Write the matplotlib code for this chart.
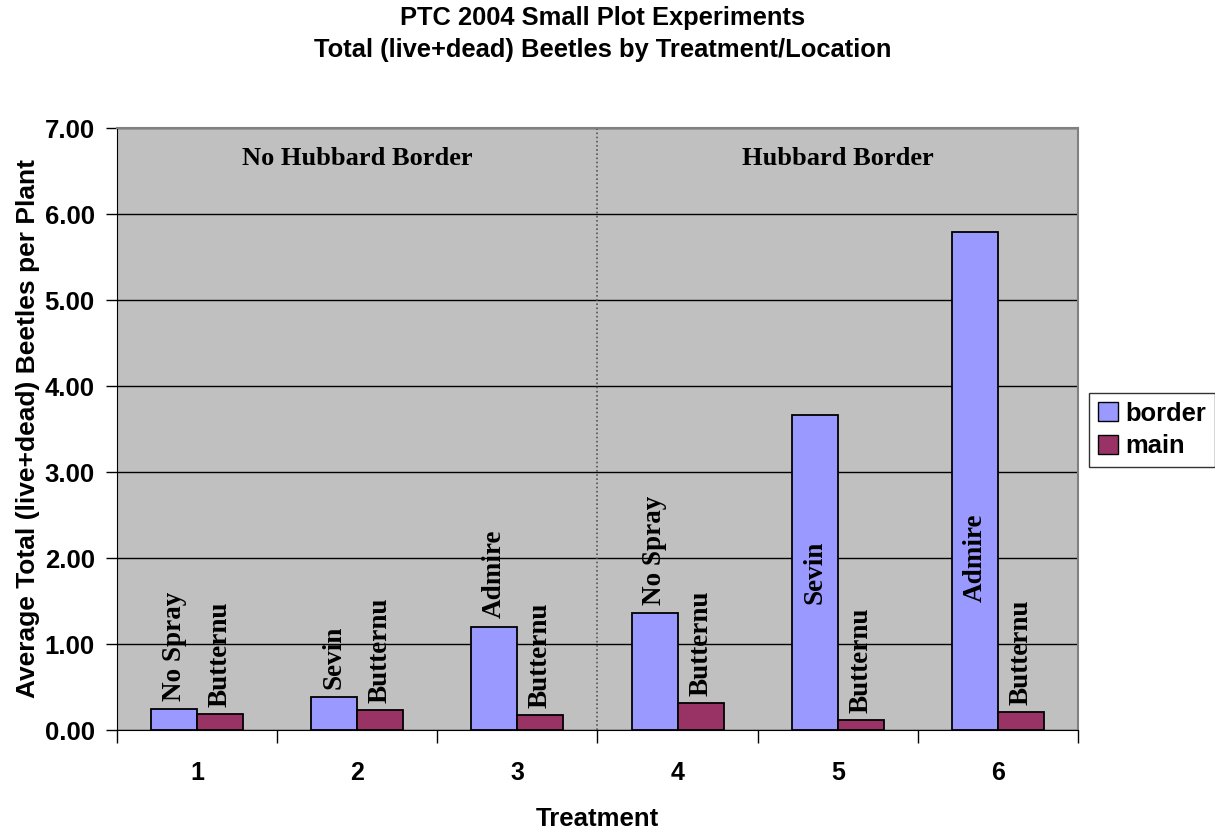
import numpy as np
import matplotlib
matplotlib.use("Agg")
import matplotlib.pyplot as plt
from matplotlib.patches import Patch

# ---- data ----
treatments = ["1", "2", "3", "4", "5", "6"]
border_vals = [0.24, 0.38, 1.20, 1.36, 3.66, 5.79]
main_vals = [0.19, 0.23, 0.17, 0.31, 0.12, 0.21]
border_labels = ["No Spray", "Sevin", "Admire", "No Spray", "Sevin", "Admire"]
main_labels = ["Butternu"] * 6
group_names = ["No Hubbard Border", "Hubbard Border"]
y_ticks = [0, 1, 2, 3, 4, 5, 6, 7]

sans = ["Liberation Sans", "DejaVu Sans"]
serif = ["Liberation Serif", "DejaVu Serif"]

fig = plt.figure(figsize=(12.15, 8.31), dpi=100)
ax = fig.add_axes([117 / 1215, 101 / 831, 961 / 1215, 602 / 831])
ax.set_facecolor("#C0C0C0")

x = np.arange(1, len(treatments) + 1)
w = 0.2875
ax.bar(x - w / 2, border_vals, w, color="#9999FF", edgecolor="black", linewidth=1.3, zorder=3)
ax.bar(x + w / 2, main_vals, w, color="#993366", edgecolor="black", linewidth=1.3, zorder=3)

# labels on bars (Excel style, rotated)
lab_kw = dict(rotation=90, fontsize=19.5, fontweight="bold", family=serif, zorder=4)
for xi, v, lab in zip(x, border_vals, border_labels):
    if v > 3:
        ax.text(xi - w / 2, min(v / 2, 2.0), lab, ha="center", va="center", **lab_kw)
    else:
        ax.annotate(lab, (xi - w / 2, v), xytext=(0, 6), textcoords="offset points",
                    ha="center", va="bottom", **lab_kw)
for xi, v, lab in zip(x, main_vals, main_labels):
    ax.annotate(lab, (xi + w / 2, v), xytext=(0, 5), textcoords="offset points",
                ha="center", va="bottom", **lab_kw)

# group labels and divider
ax.text(2, 6.65, group_names[0], ha="center", va="center", fontsize=19,
        fontweight="bold", family=serif)
ax.text(5, 6.65, group_names[1], ha="center", va="center", fontsize=19,
        fontweight="bold", family=serif)
ax.axvline(3.5, color="#555555", linestyle=(0, (1, 1.5)), linewidth=1.2, zorder=2)

ax.set_xlim(0.5, 6.5)
ax.set_ylim(0, 7)
ax.set_yticks(y_ticks)
ax.set_yticklabels([f"{t:.2f}" for t in y_ticks], fontsize=18.5, fontweight="bold", family=sans)
ax.yaxis.grid(True, color="black", linewidth=1.0, zorder=1)
ax.set_axisbelow(True)

ax.set_xticks(x)
ax.set_xticklabels(treatments, fontsize=18, fontweight="bold", family=sans)
ax.tick_params(axis="x", which="major", length=0, pad=22)
ax.set_xticks(np.arange(0.5, 7.0, 1.0), minor=True)
ax.tick_params(axis="x", which="minor", length=9, width=1, direction="out")
ax.tick_params(axis="y", length=8, width=1, direction="out", pad=8)

for s in ["top", "right"]:
    ax.spines[s].set_color("#808080")
    ax.spines[s].set_linewidth(1.5)
ax.spines["left"].set_color("black")
ax.spines["bottom"].set_color("black")

ax.set_xlabel("Treatment", fontsize=18.5, fontweight="bold", family=sans, labelpad=16)
ax.set_ylabel("Average Total (live+dead) Beetles per Plant", fontsize=19,
              fontweight="bold", family=sans, labelpad=3)

fig.text(603 / 1215, 1 - 18 / 831, "PTC 2004 Small Plot Experiments", ha="center",
         va="center", fontsize=18.4, fontweight="bold", family=sans)
fig.text(603 / 1215, 1 - 50 / 831, "Total (live+dead) Beetles by Treatment/Location",
         ha="center", va="center", fontsize=18.4, fontweight="bold", family=sans)

handles = [Patch(facecolor="#9999FF", edgecolor="black", label="border"),
           Patch(facecolor="#993366", edgecolor="black", label="main")]
leg = fig.legend(handles=handles, loc="center", bbox_to_anchor=(1152 / 1215, 1 - 430 / 831),
                 frameon=True, fancybox=False, edgecolor="black", handlelength=0.8,
                 handleheight=0.8, handletextpad=0.3, borderpad=0.35, labelspacing=0.35,
                 prop={"family": sans, "weight": "bold", "size": 18.4})
leg.get_frame().set_linewidth(1.0)

fig.savefig("out.png", dpi=100)
